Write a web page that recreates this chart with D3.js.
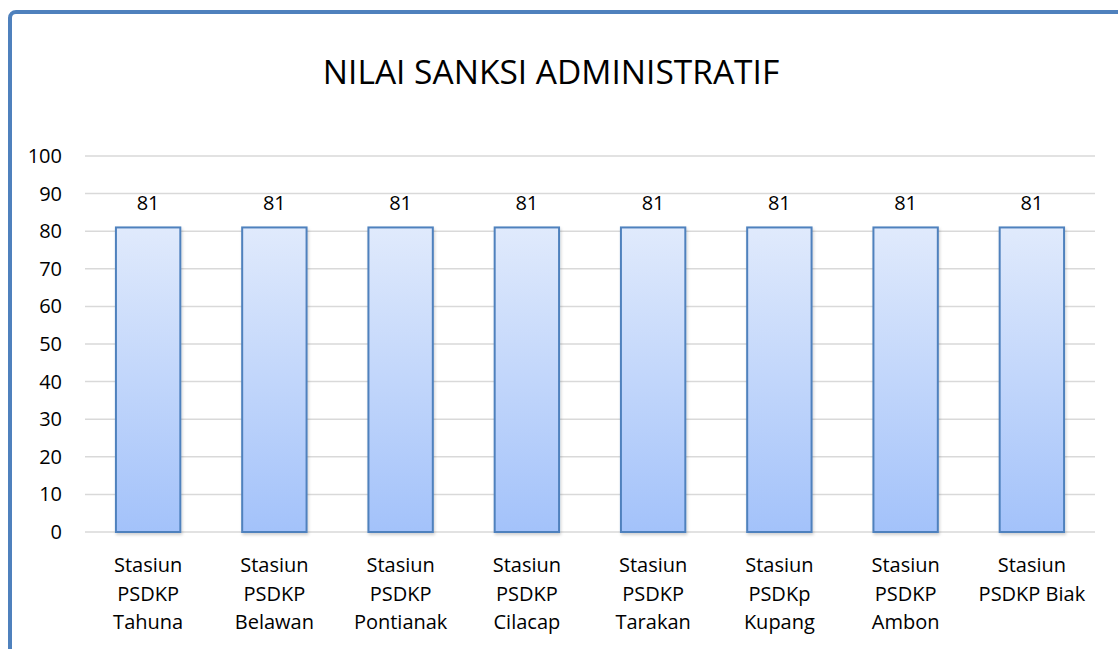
<!DOCTYPE html>
<html>
<head>
<meta charset="utf-8">
<script src="https://cdn.jsdelivr.net/npm/d3@7"></script>
<style>
  body { margin: 0; background: #fff; }
  svg { display: block; font-family: "Open Sans", sans-serif; }
</style>
</head>
<body>
<script>
const categories = [
  'Stasiun PSDKP Tahuna',
  'Stasiun PSDKP Belawan',
  'Stasiun PSDKP Pontianak',
  'Stasiun PSDKP Cilacap',
  'Stasiun PSDKP Tarakan',
  'Stasiun PSDKp Kupang',
  'Stasiun PSDKP Ambon',
  'Stasiun PSDKP Biak'
]
const values = [81, 81, 81, 81, 81, 81, 81, 81]
const yTicks = [0, 10, 20, 30, 40, 50, 60, 70, 80, 90, 100]
const title = 'NILAI SANKSI ADMINISTRATIF'

const w = 1118
const h = 649
const m = { top: 156, right: 23, bottom: 117, left: 85 }

const svg = d3.select('body')
  .append('svg')
  .attr('width', w)
  .attr('height', h)

const defs = svg.append('defs')
const grad = defs.append('linearGradient')
  .attr('id', 'barFill')
  .attr('x1', 0).attr('y1', 0)
  .attr('x2', 0).attr('y2', 1)
grad.append('stop').attr('offset', '0%').attr('stop-color', '#e0eafc')
grad.append('stop').attr('offset', '100%').attr('stop-color', '#a3c2fa')

const shadow = defs.append('filter')
  .attr('id', 'shadow')
  .attr('x', '-20%').attr('y', '-5%')
  .attr('width', '140%').attr('height', '115%')
shadow.append('feDropShadow')
  .attr('dx', 1).attr('dy', 2)
  .attr('stdDeviation', 1.5)
  .attr('flood-color', '#000')
  .attr('flood-opacity', 0.18)

// frame
svg.append('rect')
  .attr('x', 10)
  .attr('y', 12)
  .attr('width', w + 40)
  .attr('height', h + 40)
  .attr('rx', 6)
  .attr('fill', 'none')
  .attr('stroke', '#4f81bd')
  .attr('stroke-width', 4)

svg.append('text')
  .attr('x', 551)
  .attr('y', 84)
  .attr('text-anchor', 'middle')
  .style('font-size', '33.5px')
  .style('fill', '#000')
  .text(title)

const xScale = d3.scaleBand()
  .domain(categories)
  .range([m.left, w - m.right])
  .paddingInner(0.49)
  .paddingOuter(0.245)

const yScale = d3.scaleLinear()
  .domain([0, 100])
  .range([h - m.bottom, m.top])

// gridlines
svg.append('g')
  .selectAll('line')
  .data(yTicks)
  .enter()
  .append('line')
  .attr('x1', m.left)
  .attr('x2', w - m.right)
  .attr('y1', d => yScale(d))
  .attr('y2', d => yScale(d))
  .attr('stroke', '#d9d9d9')
  .attr('stroke-width', 1.5)

const yAxis = d3.axisLeft(yScale)
  .tickValues(yTicks)
  .tickSize(0)
  .tickPadding(23)

svg.append('g')
  .attr('class', 'y-axis')
  .attr('transform', `translate(${m.left}, 0)`)
  .call(yAxis)
  .call(g => g.select('.domain').remove())
  .call(g => g.selectAll('text')
    .style('font-size', '20px')
    .style('font-family', '"Open Sans", sans-serif')
    .attr('fill', '#000'))

// bars
svg.append('g')
  .selectAll('rect')
  .data(values)
  .enter()
  .append('rect')
  .attr('x', (d, i) => xScale(categories[i]))
  .attr('y', d => yScale(d))
  .attr('width', xScale.bandwidth())
  .attr('height', d => yScale(0) - yScale(d))
  .attr('fill', 'url(#barFill)')
  .attr('stroke', '#4f81bd')
  .attr('stroke-width', 2)
  .attr('filter', 'url(#shadow)')

// value labels
svg.append('g')
  .selectAll('text')
  .data(values)
  .enter()
  .append('text')
  .attr('x', (d, i) => xScale(categories[i]) + xScale.bandwidth() / 2)
  .attr('y', d => yScale(d) - 17)
  .attr('text-anchor', 'middle')
  .style('font-size', '20px')
  .text(d => d)

// category labels, wrapped
const wrapWidth = 115
const xAxis = d3.axisBottom(xScale).tickSize(0).tickPadding(0)

svg.append('g')
  .attr('class', 'x-axis')
  .attr('transform', `translate(0, ${h - m.bottom})`)
  .call(xAxis)
  .call(g => g.select('.domain').remove())
  .call(g => g.selectAll('text')
    .attr('dy', null)
    .attr('y', null)
    .style('font-size', '20px')
    .style('font-family', '"Open Sans", sans-serif')
    .attr('fill', '#000')
    .each(function (d) {
      const t = d3.select(this)
      const words = d.split(' ')
      t.text(null)
      let lines = []
      let cur = []
      let tspan = t.append('tspan')
      words.forEach(word => {
        cur.push(word)
        tspan.text(cur.join(' '))
        if (tspan.node().getComputedTextLength() > wrapWidth && cur.length > 1) {
          cur.pop()
          lines.push(cur.join(' '))
          cur = [word]
        }
      })
      lines.push(cur.join(' '))
      t.text(null)
      lines.forEach((line, i) => {
        t.append('tspan')
          .attr('x', 0)
          .attr('y', 40 + i * 28.5)
          .text(line)
      })
    }))
</script>
</body>
</html>
